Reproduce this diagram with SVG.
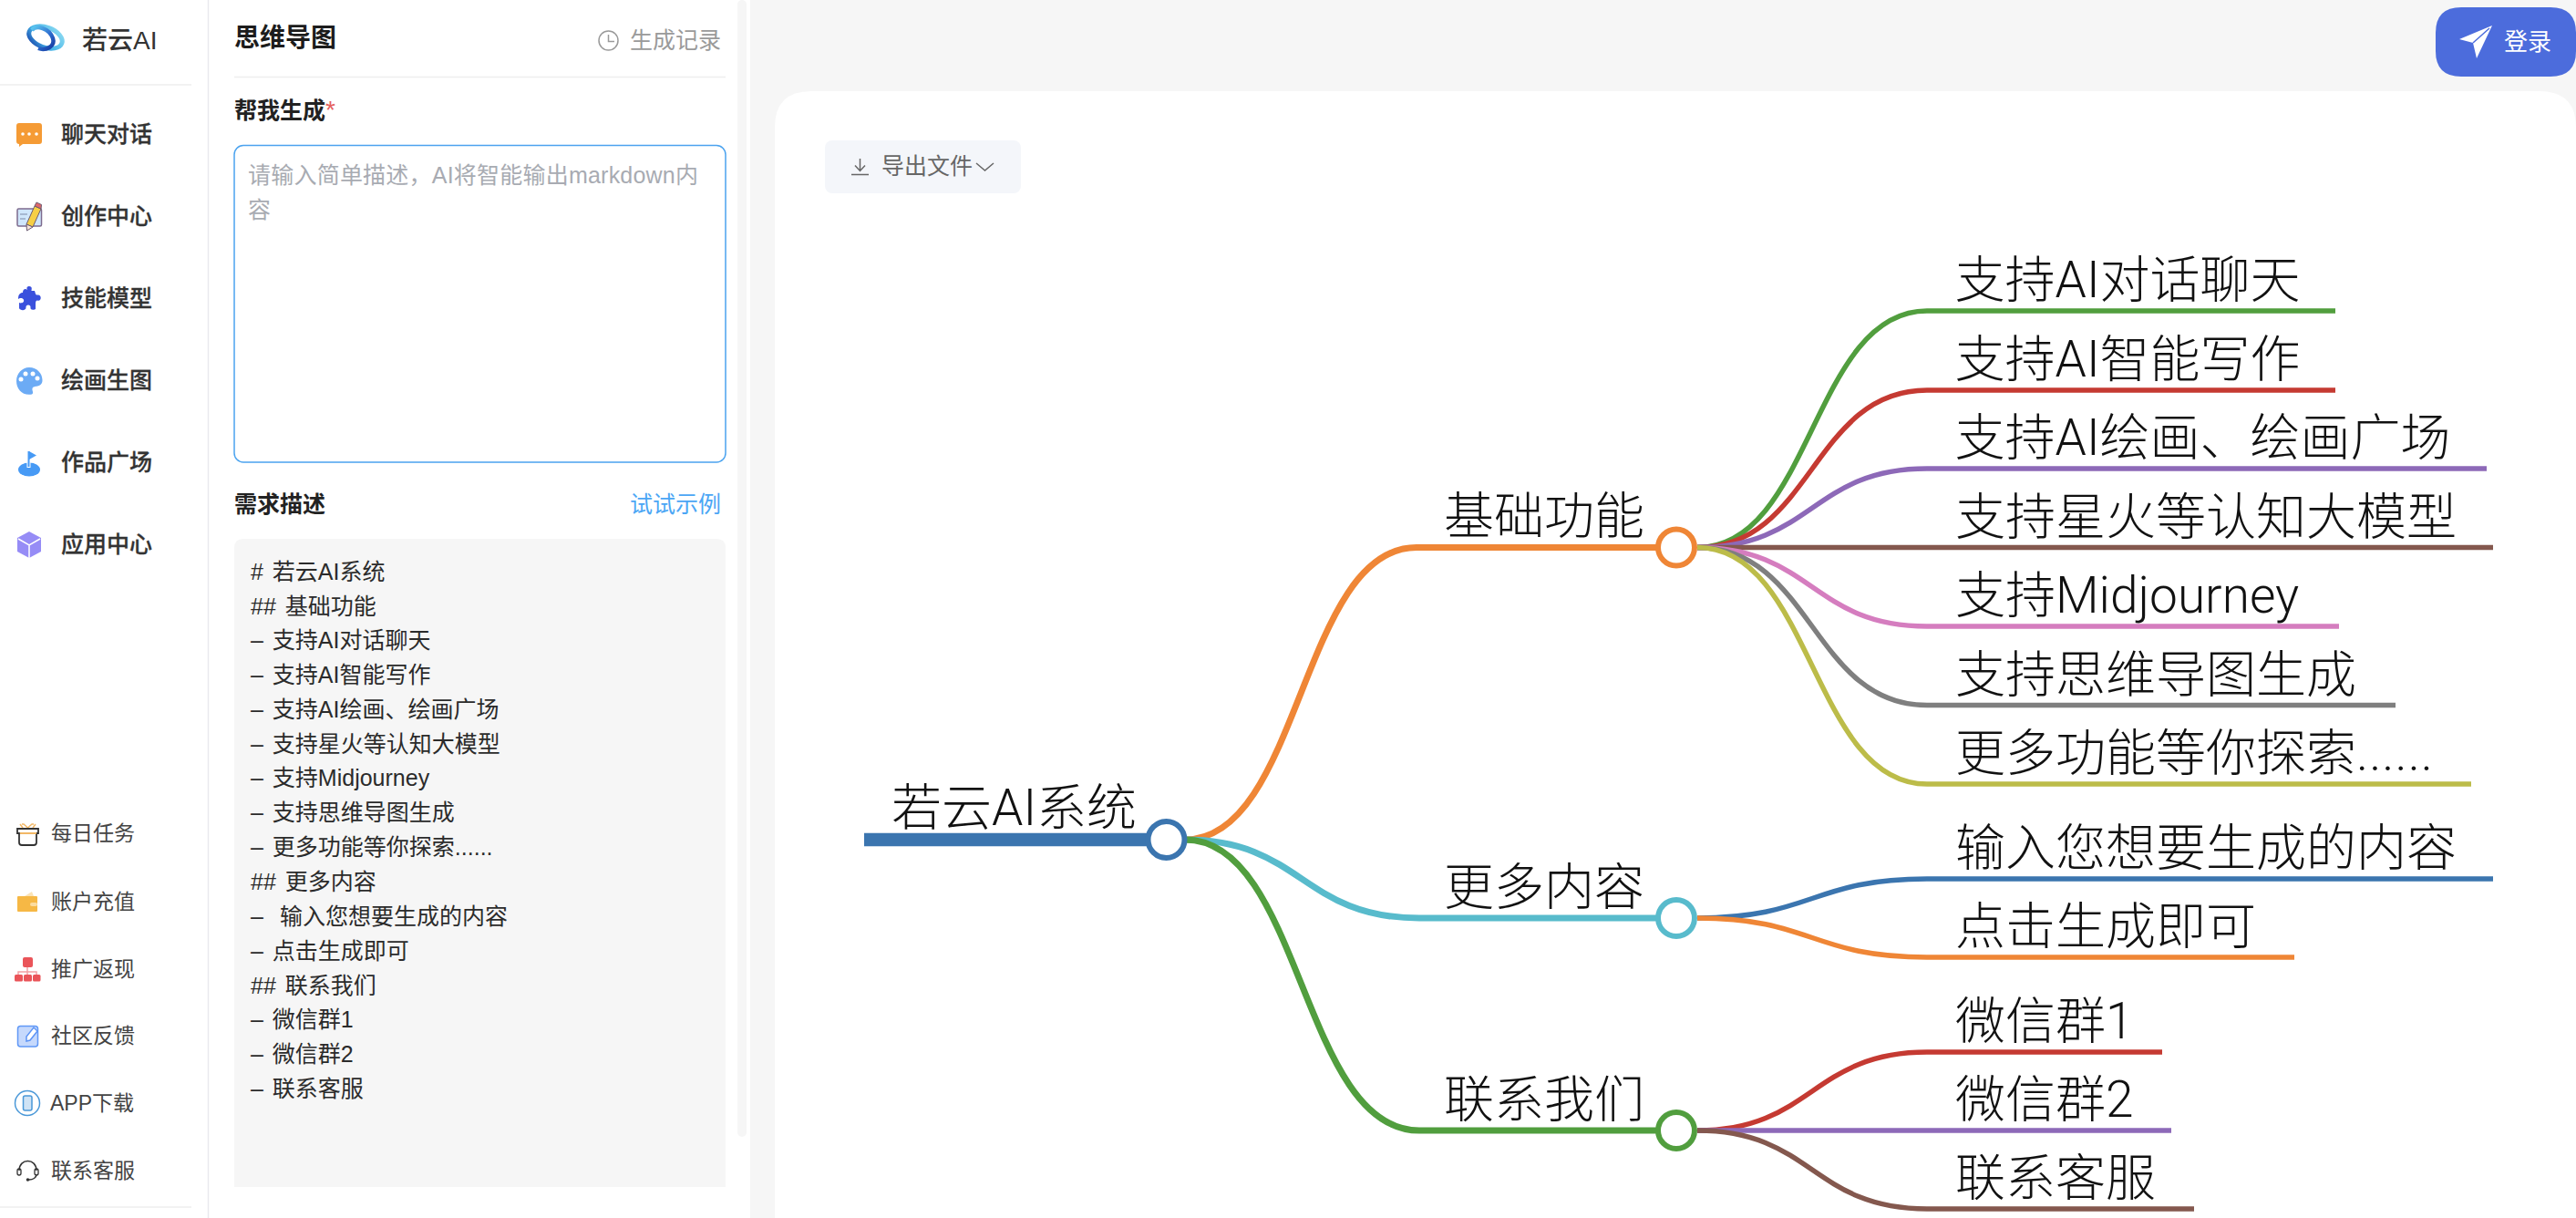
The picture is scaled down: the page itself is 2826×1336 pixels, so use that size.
<svg xmlns="http://www.w3.org/2000/svg" width="2826" height="1336" viewBox="0 0 2826 1336">
<defs>
<linearGradient id="lg1" x1="0" y1="0" x2="1" y2="1"><stop offset="0" stop-color="#5cc8f0"/><stop offset="0.55" stop-color="#2f6fd0"/><stop offset="1" stop-color="#1438a0"/></linearGradient>
<linearGradient id="lg2" x1="1" y1="0" x2="0" y2="1"><stop offset="0" stop-color="#8fdcf2"/><stop offset="0.6" stop-color="#45b4e8"/><stop offset="1" stop-color="#163fa8"/></linearGradient>
</defs>
<style>
text{font-family:"Liberation Sans","Noto Sans CJK SC",sans-serif;fill:#333}
.menu{font-size:25px;font-weight:500;fill:#333;stroke:#333;stroke-width:.3px}
.sub{font-size:23px;fill:#444}
.md{font-size:25px;fill:#2b2b2b;word-spacing:3px}
.h{font-size:25px;font-weight:700;fill:#222}
.mm{font-family:Roboto,"Noto Sans CJK SC",sans-serif;font-size:55px;font-weight:300;fill:#111}
.link{fill:none;stroke-width:7;stroke-linecap:butt}
.leaf{fill:none;stroke-width:5.5;stroke-linecap:butt}
.dot{fill:#fff;stroke-width:6}
.div{stroke:#eeeeee;stroke-width:1.5}
</style>
<rect id="page" width="2826" height="1336" fill="#ffffff"/>
<rect id="main-bg" x="823" y="0" width="2003" height="1336" fill="#f6f6f6"/>
<path id="canvas" d="M850 1336V140Q850 100 890 100H2786Q2826 100 2826 140V1336Z" fill="#ffffff"/>

<g id="sidebar">
<line x1="228.500" y1="0" x2="228.500" y2="1336" stroke="#e9e9ee" stroke-width="1.500"/>
<g id="logo">
<ellipse cx="50" cy="41" rx="19" ry="11" transform="rotate(20 50 41)" fill="none" stroke="url(#lg2)" stroke-width="5"/>
<path d="M35 33C40 27 54 31 58 42C61 51 50 56 42 53" fill="none" stroke="url(#lg1)" stroke-width="4.500"/>
</g>
<text x="90" y="54" style="font-size:28px;font-weight:500">若云AI</text>
<line class="div" x1="0" y1="93" x2="210" y2="93"/>

<g id="menu-chat">
<path d="M21 135H43Q46 135 46 138V155Q46 158 43 158H25L21 161V158Q18 158 18 155V138Q18 135 21 135Z" fill="#f59b35"/>
<circle cx="25" cy="147" r="1.800" fill="#fff"/><circle cx="32" cy="147" r="1.800" fill="#fff"/><circle cx="40" cy="147" r="1.800" fill="#fff"/>
<text class="menu" x="67" y="156">聊天对话</text></g>
<g id="menu-create">
<rect x="19" y="229" width="26.500" height="19" rx="1.500" fill="#cfe6fb" stroke="#7d6b8e" stroke-width="1.500"/>
<path d="M22 235H30M22 240H28" stroke="#7d8aa8" stroke-width="1.200"/>
<path d="M38 226L45 229L36 249L29 246Z" fill="#f6cf45" stroke="#6a5a70" stroke-width="1"/>
<path d="M38 226L40 222L45.500 224.500L45 229Z" fill="#e0686a" stroke="#6a5a70" stroke-width="1"/>
<path d="M29 246L36 249L29.500 253Z" fill="#f5e3d8" stroke="#6a5a70" stroke-width="1"/>
<text class="menu" x="67" y="246">创作中心</text></g>
<g id="menu-skill">
<path d="M25 321C25 317 28 316 30 318C28 314 32 314 32 314C36 314 34.500 318 34.500 319L38 319C39 322 39 324 41 323.500C46 322.500 46 331 41 329.500C39.500 329.500 39 331 39 333.500V339C35 341 33 339 33.500 337C34 333.500 28 333.500 28.500 337C29 341 22 341 21 338V332C23 333 27 332 26 329C25 326 21 327 20 328C20 323 22 321 25 321Z" fill="#3a50dd"/>
<text class="menu" x="67" y="336">技能模型</text></g>
<g id="menu-draw">
<path d="M32 403C41 403 46.500 410 46.500 417C46.500 425 38 423 36 425C34 428 38 431 35 432.500C25 434.500 18 427 18 418C18 410 24 403 32 403Z" fill="#6cabf5"/>
<circle cx="23" cy="416" r="2.500" fill="#fff"/><circle cx="28" cy="410" r="2.500" fill="#fff"/><circle cx="36" cy="410" r="2.500" fill="#fff"/><circle cx="41" cy="415" r="2.500" fill="#fff"/>
<text class="menu" x="67" y="426">绘画生图</text></g>
<g id="menu-works">
<ellipse cx="32" cy="515" rx="12" ry="7.500" fill="#479af5"/>
<path d="M31.500 495V513" stroke="#fff" stroke-width="4"/>
<path d="M31.500 495V512" stroke="#479af5" stroke-width="2"/>
<path d="M32 495L40 499.500L32 504Z" fill="#479af5"/>
<text class="menu" x="67" y="516">作品广场</text></g>
<g id="menu-apps">
<path d="M32 583L45 590V605L32 612L19 605V590Z" fill="#968cf6"/>
<path d="M20 591L32 598L44 591M32 598V612" fill="none" stroke="#fff" stroke-width="1.500"/>
<text class="menu" x="67" y="606">应用中心</text></g>

<g id="sub-task">
<path d="M25 908L22 904M36 908L39 904M30.500 908L26 904H24M30.500 908L35 904H37" fill="none" stroke="#f2b866" stroke-width="1.500"/>
<path d="M19 909H42V914H40V924Q40 927 37 927H24Q21 927 21 924V914H19Z" fill="#fff" stroke="#333" stroke-width="1.800"/>
<path d="M22 914H40" stroke="#f2b866" stroke-width="2"/>
<text class="sub" x="56" y="922">每日任务</text></g>
<g id="sub-pay">
<path d="M27 983L35 978L37 983Z" fill="#fbe3b5"/>
<rect x="19" y="983" width="22" height="17" rx="1" fill="#f6b845"/>
<rect x="33" y="990" width="8" height="4" rx="2" fill="#fbdca0"/>
<text class="sub" x="56" y="997">账户充值</text></g>
<g id="sub-invite">
<path d="M30 1060V1066M20 1070V1066H40V1070M30 1066V1070" fill="none" stroke="#f2a0a4" stroke-width="1.500"/>
<rect x="25" y="1050" width="11" height="11" rx="2" fill="#ea5459"/>
<rect x="16" y="1069" width="9" height="7.500" rx="1.500" fill="#ea5459"/><rect x="26" y="1069" width="9" height="7.500" rx="1.500" fill="#ea5459"/><rect x="36" y="1069" width="8.500" height="7.500" rx="1.500" fill="#ea5459"/>
<text class="sub" x="56" y="1071">推广返现</text></g>
<g id="sub-feedback">
<rect x="19.500" y="1125.500" width="22" height="22.500" rx="3" fill="#c6d9fc" stroke="#6098f6" stroke-width="1.500"/>
<path d="M29 1142V1137L37 1127L41 1131L33 1141Z" fill="#fff" stroke="#5d94f5" stroke-width="1.500"/>
<text class="sub" x="56" y="1144">社区反馈</text></g>
<g id="sub-app">
<circle cx="30" cy="1210" r="13.500" fill="#fff" stroke="#4a98d8" stroke-width="1.500"/>
<rect x="25.500" y="1202" width="9.500" height="16" rx="2" fill="#cfe3f5" stroke="#4a98d8" stroke-width="1.500"/>
<text class="sub" x="55" y="1218">APP下载</text></g>
<g id="sub-service">
<path d="M21 1284C21 1270 40 1270 40 1284" fill="none" stroke="#333" stroke-width="1.500"/>
<path d="M40 1288C40 1292 36 1294 32 1294" fill="none" stroke="#333" stroke-width="1.500"/>
<rect x="19" y="1282" width="4" height="7" rx="2" fill="none" stroke="#333" stroke-width="1.300"/>
<rect x="38" y="1282" width="4" height="7" rx="2" fill="none" stroke="#333" stroke-width="1.300"/>
<circle cx="30.500" cy="1294" r="1.800" fill="#333"/>
<text class="sub" x="56" y="1292">联系客服</text></g>
<line class="div" x1="0" y1="1324" x2="210" y2="1324"/>
</g>

<g id="form-panel">
<text x="257" y="51" style="font-size:28px;font-weight:700;fill:#1c1c1c">思维导图</text>
<g id="history">
<circle cx="667.500" cy="44.500" r="10.500" fill="none" stroke="#9a9a9a" stroke-width="1.500"/>
<path d="M667.500 38V45.500H674" fill="none" stroke="#9a9a9a" stroke-width="1.500"/>
<text x="691" y="53" style="font-size:25px;fill:#9a9a9a">生成记录</text></g>
<line class="div" x1="257" y1="84.500" x2="796" y2="84.500"/>
<text class="h" x="257" y="130">帮我生成<tspan style="fill:#e5605e;font-weight:400;font-size:28px">*</tspan></text>
<rect id="textarea" x="257" y="159.500" width="539" height="347.500" rx="10" fill="#fff" stroke="#4ba3ef" stroke-width="1.500"/>
<text x="272" y="201" textLength="494" lengthAdjust="spacing" style="font-size:25px;fill:#a8abb2">请输入简单描述，AI将智能输出markdown内</text>
<text x="272" y="239" style="font-size:25px;fill:#a8abb2">容</text>
<text class="h" x="257" y="562">需求描述</text>
<text x="691" y="562" style="font-size:25px;fill:#4ba6f5">试试示例</text>
<path id="md-box" d="M257 1302V601Q257 591 267 591H786Q796 591 796 601V1302Z" fill="#f6f6f6"/>
<g id="md-text">
<text class="md" x="275" y="636">#  若云AI系统</text>
<text class="md" x="275" y="673.500">## 基础功能</text>
<text class="md" x="275" y="711">– 支持AI对话聊天</text>
<text class="md" x="275" y="749">– 支持AI智能写作</text>
<text class="md" x="275" y="786.500">– 支持AI绘画、绘画广场</text>
<text class="md" x="275" y="824.500">– 支持星火等认知大模型</text>
<text class="md" x="275" y="862">– 支持Midjourney</text>
<text class="md" x="275" y="900">– 支持思维导图生成</text>
<text class="md" x="275" y="938">– 更多功能等你探索......</text>
<text class="md" x="275" y="976">## 更多内容</text>
<text class="md" x="275" y="1014">– <tspan x="307">输入您想要生成的内容</tspan></text>
<text class="md" x="275" y="1051.500">– 点击生成即可</text>
<text class="md" x="275" y="1089.500">## 联系我们</text>
<text class="md" x="275" y="1127">– 微信群1</text>
<text class="md" x="275" y="1165">– 微信群2</text>
<text class="md" x="275" y="1203">– 联系客服</text>
</g>
<rect id="scrollbar" x="809" y="0" width="10" height="1247" rx="5" fill="#f6f6f6"/>
</g>

<g id="login">
<path d="M2700 8H2798Q2826 8 2826 36V56Q2826 84 2798 84H2700Q2672 84 2672 56V36Q2672 8 2700 8Z" fill="#4c6cdc"/>
<path d="M2734 28L2698 43L2713 47L2717 64Z" fill="#fff"/>
<path d="M2731 31L2713 47" stroke="#4c6cdc" stroke-width="1.500"/>
<text x="2747" y="55" style="font-size:26px;fill:#fff">登录</text>
</g>

<g id="export">
<rect x="905" y="154" width="215" height="58" rx="8" fill="#f4f6fa"/>
<path d="M943.500 174V187M938 181.500L943.500 187.500L949 181.500M934 191.500H953" fill="none" stroke="#666" stroke-width="1.500"/>
<text x="967" y="191" style="font-size:25px;fill:#666">导出文件</text>
<path d="M1071 179L1080.500 187L1090 179" fill="none" stroke="#666" stroke-width="1.500"/>
</g>

<g id="connectors">
<path d="M948 921H1260" fill="none" stroke="#3b75af" stroke-width="14.500"/>
<path class="link" stroke="#ef8636" d="M1300 921C1427 921 1427 600.500 1554 600.500H1820"/>
<path class="link" stroke="#58bbcc" d="M1300 921C1428 921 1428 1007 1557 1007H1820"/>
<path class="link" stroke="#519e3e" d="M1300 921C1428 921 1428 1240 1557 1240H1820"/>
<path class="leaf" stroke="#519e3e" d="M1862 600.500C1988 600.500 1988 341 2114 341H2562"/>
<path class="leaf" stroke="#c53a32" d="M1862 600.500C1988 600.500 1988 428 2114 428H2562"/>
<path class="leaf" stroke="#8d69b8" d="M1862 600.500C1988 600.500 1988 514 2114 514H2728"/>
<path class="leaf" stroke="#84584e" d="M1862 600.500H2735"/>
<path class="leaf" stroke="#d57dbf" d="M1862 600.500C1988 600.500 1988 687 2114 687H2566"/>
<path class="leaf" stroke="#7f7f7f" d="M1862 600.500C1988 600.500 1988 773.500 2114 773.500H2628"/>
<path class="leaf" stroke="#bcbc49" d="M1862 600.500C1988 600.500 1988 860 2114 860H2711"/>
<path class="leaf" stroke="#3b75af" d="M1862 1007C1988 1007 1988 964 2114 964H2735"/>
<path class="leaf" stroke="#ef8636" d="M1862 1007C1988 1007 1988 1050 2114 1050H2517"/>
<path class="leaf" stroke="#c53a32" d="M1862 1240C1988 1240 1988 1154 2114 1154H2372"/>
<path class="leaf" stroke="#8d69b8" d="M1862 1240H2382"/>
<path class="leaf" stroke="#84584e" d="M1862 1240C1988 1240 1988 1326 2114 1326H2407"/>
</g>

<g id="node-root"><circle class="dot" cx="1279.500" cy="921" r="20" stroke="#3b75af"/><text class="mm" x="978" y="905">若云AI系统</text></g>
<g id="node-basic"><circle class="dot" cx="1839" cy="600.500" r="20" stroke="#ef8636"/><text class="mm" x="1584" y="585">基础功能</text></g>
<g id="node-more"><circle class="dot" cx="1839" cy="1007" r="20" stroke="#58bbcc"/><text class="mm" x="1584" y="992">更多内容</text></g>
<g id="node-contact"><circle class="dot" cx="1839" cy="1240" r="20" stroke="#519e3e"/><text class="mm" x="1584" y="1225">联系我们</text></g>
<g id="leaf-1"><text class="mm" x="2144.500" y="326">支持AI对话聊天</text></g>
<g id="leaf-2"><text class="mm" x="2144.500" y="413">支持AI智能写作</text></g>
<g id="leaf-3"><text class="mm" x="2144.500" y="499">支持AI绘画、绘画广场</text></g>
<g id="leaf-4"><text class="mm" x="2145" y="585.500">支持星火等认知大模型</text></g>
<g id="leaf-5"><text class="mm" x="2145" y="672">支持Midjourney</text></g>
<g id="leaf-6"><text class="mm" x="2145" y="758.500">支持思维导图生成</text></g>
<g id="leaf-7"><text class="mm" x="2145" y="845">更多功能等你探索<tspan style="letter-spacing:1px">......</tspan></text></g>
<g id="leaf-8"><text class="mm" x="2145" y="949">输入您想要生成的内容</text></g>
<g id="leaf-9"><text class="mm" x="2145" y="1035">点击生成即可</text></g>
<g id="leaf-10"><text class="mm" x="2145" y="1139">微信群1</text></g>
<g id="leaf-11"><text class="mm" x="2145" y="1225">微信群2</text></g>
<g id="leaf-12"><text class="mm" x="2145" y="1311">联系客服</text></g>
</svg>
